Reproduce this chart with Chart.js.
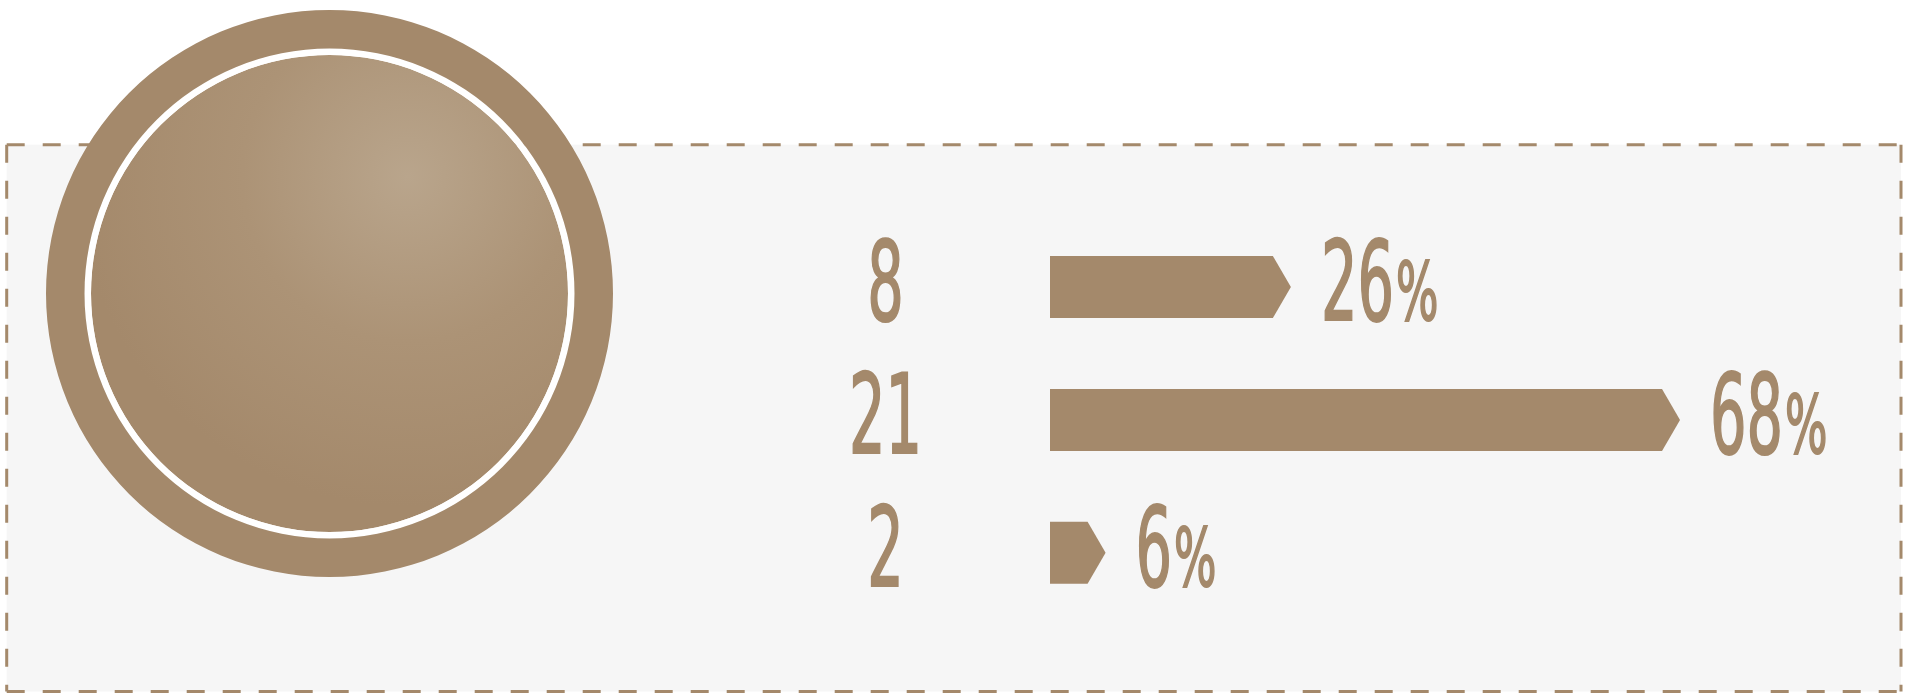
<!DOCTYPE html>
<html>
<head>
<meta charset="utf-8">
<title>Shares</title>
<script src="https://cdn.jsdelivr.net/npm/chart.js"></script>
<style>
  html, body { margin: 0; padding: 0; background: #fff; overflow: hidden; }
  #wrap { position: relative; width: 1914px; height: 693px; }
  #bars { position: absolute; left: 0; top: 0; }
  #disc { position: absolute; left: 46px; top: 10px; }
</style>
</head>
<body>
<div id="wrap">
  <canvas id="bars" width="1914" height="693"></canvas>
  <canvas id="disc" width="567" height="567"></canvas>
</div>
<script>
// Values
const counts = [8, 21, 2];        // numbers shown left of each bar
const shares = [26, 68, 6];       // percentages, bar lengths
const totalCount = [31];          // the big disc (sum of counts)

const BROWN = '#a4896b';
const PANEL = '#f6f6f6';
const FONT = '"DejaVu Sans Condensed", "Liberation Sans Narrow", sans-serif';
const TEXT_SX = 0.58;   // squeeze glyphs to look condensed
const TIP = 18;         // length of the arrow point

// draw text squeezed horizontally, returns drawn width
function squeezedText(ctx, txt, x, y, size, align, sx) {
    sx = sx || TEXT_SX;
    ctx.save();
    ctx.font = size + 'px ' + FONT;
    const w = ctx.measureText(txt).width * sx;
    let left = x;
    if (align === 'center') left = x - w / 2;
    ctx.translate(left, y);
    ctx.scale(sx, 1);
    ctx.textAlign = 'left';
    ctx.textBaseline = 'alphabetic';
    ctx.fillStyle = BROWN;
    ctx.strokeStyle = BROWN;
    ctx.lineWidth = 2;
    ctx.fillText(txt, 0, 0);
    ctx.strokeText(txt, 0, 0);
    ctx.restore();
    return w;
}

// Dashed panel behind the bars
const panelPlugin = {
    id: 'panel',
    beforeDraw(chart) {
        const ctx = chart.ctx;
        const x0 = 6.7, y0 = 144.7, x1 = 1901, y1 = 691.5;
        ctx.save();
        ctx.fillStyle = PANEL;
        ctx.fillRect(x0, y0, x1 - x0, y1 - y0);
        ctx.strokeStyle = BROWN;
        ctx.lineWidth = 3;
        ctx.setLineDash([18, 18]);
        ctx.beginPath();
        ctx.moveTo(x0, y0); ctx.lineTo(x1, y0);
        ctx.moveTo(x1, y0); ctx.lineTo(x1, y1);
        ctx.moveTo(x0, y1); ctx.lineTo(x1, y1);
        ctx.moveTo(x0, y0); ctx.lineTo(x0, y1);
        ctx.stroke();
        ctx.restore();
    }
};

// Arrow shaped bars + labels
const arrowPlugin = {
    id: 'arrows',
    afterDatasetsDraw(chart) {
        const ctx = chart.ctx;
        const meta = chart.getDatasetMeta(0);
        meta.data.forEach((bar, i) => {
            const p = bar.getProps(['x', 'y', 'base', 'height'], true);
            const half = p.height / 2;
            ctx.save();
            ctx.fillStyle = BROWN;
            ctx.beginPath();
            ctx.moveTo(p.base, p.y - half);
            ctx.lineTo(p.x - TIP, p.y - half);
            ctx.lineTo(p.x, p.y);
            ctx.lineTo(p.x - TIP, p.y + half);
            ctx.lineTo(p.base, p.y + half);
            ctx.closePath();
            ctx.fill();
            ctx.restore();

            const baseline = p.y + 33;
            squeezedText(ctx, String(counts[i]), 885.5, baseline, 110, 'center');
            const w = squeezedText(ctx, String(shares[i]), p.x + 30, baseline, 110, 'left');
            squeezedText(ctx, '%', p.x + 30 + w + 2, baseline, 80, 'left', 0.62);
        });
    }
};

new Chart(document.getElementById('bars'), {
    type: 'bar',
    data: {
        labels: counts.map(String),
        datasets: [{
            data: shares,
            backgroundColor: 'rgba(0,0,0,0)',
            borderWidth: 0,
            barThickness: 62
        }]
    },
    options: {
        indexAxis: 'y',
        responsive: false,
        animation: false,
        layout: { padding: { left: 1050, right: 122.8, top: 220.6, bottom: 73.8 } },
        scales: {
            x: { display: false, min: 0, max: 80 },
            y: { display: false }
        },
        plugins: { legend: { display: false }, tooltip: { enabled: false } }
    },
    plugins: [panelPlugin, arrowPlugin]
});

// Disc: outer ring, thin white gap, shaded centre
function discFill(context) {
    const chart = context.chart;
    const area = chart.chartArea;
    if (!area) return BROWN;
    const cx = (area.left + area.right) / 2;
    const cy = (area.top + area.bottom) / 2;
    const hx = cx + 78, hy = cy - 117;
    const g = chart.ctx.createRadialGradient(hx, hy, 0, hx, hy, 330);
    g.addColorStop(0, '#b9a58c');
    g.addColorStop(0.5, '#ac9376');
    g.addColorStop(1, '#a4896b');
    return g;
}

new Chart(document.getElementById('disc'), {
    type: 'pie',
    data: {
        labels: ['Total'],
        datasets: [
            { data: totalCount, backgroundColor: BROWN, borderWidth: 0, weight: 38.5 },
            { data: totalCount, backgroundColor: '#ffffff', borderWidth: 0, weight: 6.5 },
            { data: totalCount, backgroundColor: discFill, borderWidth: 0, weight: 238.5 }
        ]
    },
    options: {
        responsive: false,
        animation: false,
        hoverOffset: 0,
        plugins: { legend: { display: false }, tooltip: { enabled: false } }
    }
});
</script>
</body>
</html>
